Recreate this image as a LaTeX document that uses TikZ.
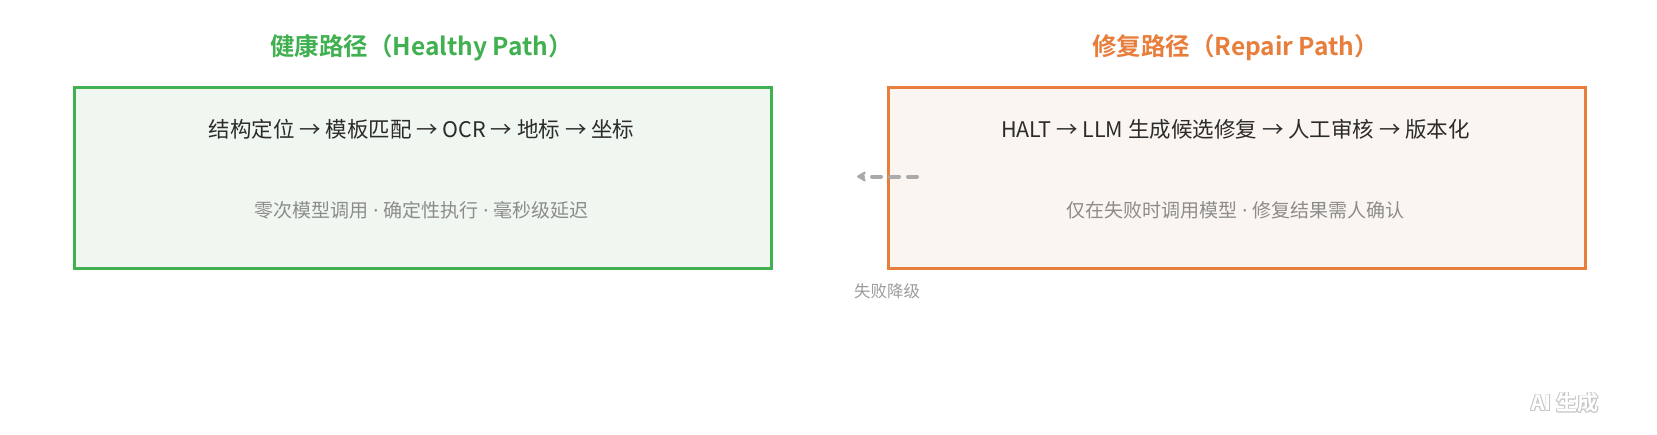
\documentclass[tikz,border=0pt]{standalone}
\usepackage{fontspec}
\setmainfont{Noto Sans CJK SC}
\newfontfamily\cjkb{Noto Sans CJK SC Bold}
\newfontfamily\latinf{Noto Sans}
\usetikzlibrary{arrows.meta}
\definecolor{hgreen}{HTML}{40B050}
\definecolor{hgreenfill}{HTML}{F0F6F0}
\definecolor{rorange}{HTML}{E87E3C}
\definecolor{rorangefill}{HTML}{FAF5F0}
\definecolor{txtdark}{HTML}{2B2B2B}
\definecolor{txtgray}{HTML}{8C8C8C}
\definecolor{arrgray}{HTML}{AAAAAA}
\newcommand{\sdot}{{\latinf\ ·\ }}
\begin{document}
\begin{tikzpicture}[x=1pt,y=-1pt,
  pathbox/.style={draw, line width=3pt, minimum width=697pt, minimum height=181.5pt, anchor=north west, inner sep=0pt},
  titletext/.style={font=\cjkb\fontsize{24.5}{28}\selectfont},
  maintext/.style={text=txtdark, font=\fontsize{21.5}{25}\selectfont},
  subtext/.style={text=txtgray, font=\fontsize{19}{22}\selectfont},
  lbl/.style={text=txtgray!85, font=\fontsize{16.5}{19}\selectfont},
  wmtext/.style={font=\cjkb\fontsize{21}{24}\selectfont}]
\useasboundingbox (0,0) rectangle (1657,434);
\fill[white] (0,0) rectangle (1657,434);
% boxes
\node[pathbox, draw=hgreen, fill=hgreenfill] (hbox) at (73,85.5) {};
\node[pathbox, draw=rorange, fill=rorangefill] (rbox) at (887,85.5) {};
% titles
\node[titletext, text=hgreen] (htitle) at (421.5,48) {健康路径（Healthy Path）};
\node[titletext, text=rorange] (rtitle) at (1235.5,48) {修复路径（Repair Path）};
% contents
\node[maintext] (hmain) at (421.5,129) {结构定位 → 模板匹配 → OCR → 地标 → 坐标};
\node[subtext] (hsub) at (421.5,210) {零次模型调用\sdot 确定性执行\sdot 毫秒级延迟};
\node[maintext] (rmain) at (1235.5,129) {HALT → LLM 生成候选修复 → 人工审核 → 版本化};
\node[subtext] (rsub) at (1235.5,210) {仅在失败时调用模型\sdot 修复结果需人确认};
% fallback arrow
\coordinate (astart) at (917,176.5);
\coordinate (aend) at (857,176.5);
\draw[arrgray, line width=4pt, line cap=round, dash pattern=on 9pt off 9pt, -{Stealth[length=11pt,width=13pt,round]}] (astart) -- (aend);
\node[lbl] (flabel) at (887,291) {失败降级};
% watermark
\foreach \dx/\dy in {-0.8/0,0.8/0,0/-0.8,0/0.8,-0.6/-0.6,0.6/0.6,-0.6/0.6,0.6/-0.6} {
  \node[wmtext, text=black!22] at (1565+\dx,403+\dy) {AI 生成};
}
\node[wmtext, text=white] (wm) at (1565,403) {AI 生成};
\end{tikzpicture}
\end{document}
